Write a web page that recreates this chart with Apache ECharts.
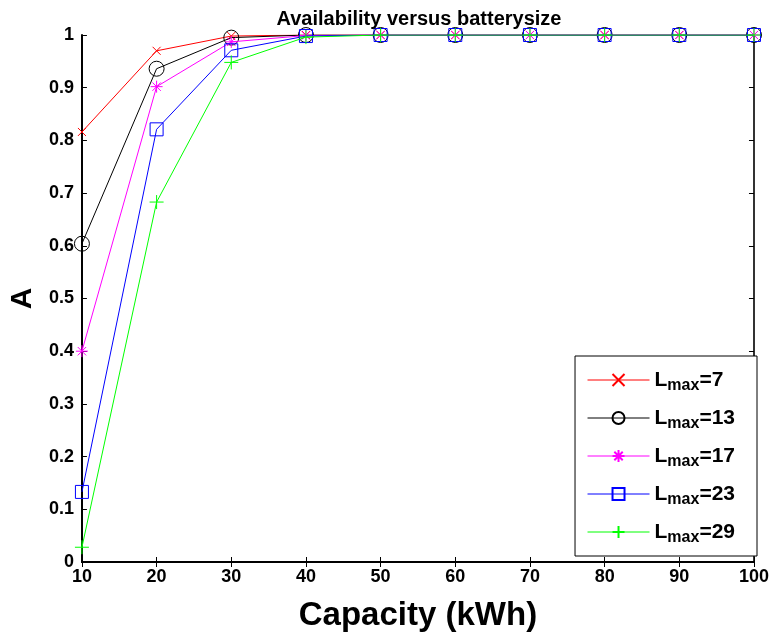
<!DOCTYPE html>
<html>
<head>
<meta charset="utf-8">
<script src="https://cdn.jsdelivr.net/npm/echarts@6/dist/echarts.min.js"></script>
<style>
  html, body { margin: 0; padding: 0; background: #fff; }
  #chart { width: 772px; height: 637px; }
</style>
</head>
<body>
<div id="chart"></div>
<script>
// capacity values (kWh)
var capacity = [10, 20, 30, 40, 50, 60, 70, 80, 90, 100];

// availability for each Lmax
var lmax7  = [0.816, 0.970, 0.998, 1, 1, 1, 1, 1, 1, 1];
var lmax13 = [0.604, 0.936, 0.995, 1, 1, 1, 1, 1, 1, 1];
var lmax17 = [0.400, 0.902, 0.987, 0.999, 1, 1, 1, 1, 1, 1];
var lmax23 = [0.133, 0.821, 0.971, 0.998, 1, 1, 1, 1, 1, 1];
var lmax29 = [0.028, 0.683, 0.948, 0.996, 1, 1, 1, 1, 1, 1];

var seriesNames = ['7', '13', '17', '23', '29'];
var seriesData = [lmax7, lmax13, lmax17, lmax23, lmax29];
var seriesColors = ['#ff0000', '#000000', '#ff00ff', '#0000ff', '#00ff00'];
var seriesSymbols = [
  'path://M0,0L10,10M10,0L0,10',
  'circle',
  'path://M5,0L5,10M0,5L10,5M1.5,1.5L8.5,8.5M8.5,1.5L1.5,8.5',
  'rect',
  'path://M5,0L5,10M0,5L10,5'
];
var seriesSizes = [8, 15, 12, 13, 14];

var font = '"Liberation Sans", Arial, sans-serif';

var dom = document.getElementById('chart');
var myChart = echarts.init(dom);

var series = seriesNames.map(function (n, i) {
  return {
    name: n,
    type: 'line',
    data: capacity.map(function (c, j) { return [c, seriesData[i][j]]; }),
    symbol: seriesSymbols[i],
    symbolSize: seriesSizes[i],
    showAllSymbol: true,
    lineStyle: { color: seriesColors[i], width: 1 },
    itemStyle: { color: 'rgba(255,255,255,0)', borderColor: seriesColors[i], borderWidth: 1 },
    emphasis: { disabled: true },
    animation: false,
    z: 2 + i
  };
});

var tickStyle = { show: true, inside: true, length: 5, lineStyle: { color: '#000', width: 1 } };

var option = {
  backgroundColor: '#fff',
  animation: false,
  title: {
    text: 'Availability versus batterysize',
    left: 414,
    textAlign: 'center',
    top: 4,
    textStyle: { fontFamily: font, fontWeight: 'bold', fontSize: 20, color: '#000' }
  },
  grid: { left: 81, right: 17, top: 35, bottom: 74 },
  legend: {
    orient: 'vertical',
    right: 15,
    bottom: 81,
    padding: [10, 22, 10, 12],
    itemGap: 10,
    itemWidth: 62,
    itemHeight: 15,
    backgroundColor: '#fff',
    borderColor: '#000',
    borderWidth: 1,
    borderRadius: 0,
    lineStyle: { width: 1 },
    data: seriesNames,
    formatter: function (name) {
      return '{l|L}{s|max}{l|=' + name + '}';
    },
    textStyle: {
      rich: {
        l: { fontFamily: font, fontWeight: 'bold', fontSize: 21, color: '#000', lineHeight: 22 },
        s: { fontFamily: font, fontWeight: 'bold', fontSize: 16, color: '#000', padding: [12, 0, 0, 0], lineHeight: 22 }
      }
    }
  },
  xAxis: [{
    type: 'value',
    min: 10,
    max: 100,
    interval: 10,
    name: 'Capacity (kWh)',
    nameLocation: 'middle',
    nameGap: 37,
    nameTextStyle: { fontFamily: font, fontWeight: 'bold', fontSize: 33, color: '#000' },
    axisLine: { show: true, lineStyle: { color: '#000', width: 2 } },
    axisTick: tickStyle,
    axisLabel: { fontFamily: font, fontWeight: 'bold', fontSize: 18, color: '#000', margin: 6 },
    splitLine: { show: false }
  }, {
    type: 'value',
    position: 'top',
    min: 10,
    max: 100,
    interval: 10,
    axisLine: { show: true, lineStyle: { color: '#000', width: 1.5 } },
    axisTick: tickStyle,
    axisLabel: { show: false },
    splitLine: { show: false }
  }],
  yAxis: [{
    type: 'value',
    min: 0,
    max: 1,
    interval: 0.1,
    name: 'A',
    nameLocation: 'middle',
    nameGap: 40,
    nameRotate: 90,
    nameTextStyle: { fontFamily: font, fontWeight: 'bold', fontSize: 30, color: '#000' },
    axisLine: { show: true, lineStyle: { color: '#000', width: 2 } },
    axisTick: tickStyle,
    axisLabel: {
      fontFamily: font, fontWeight: 'bold', fontSize: 18, color: '#000', margin: 8,
      formatter: function (v) {
        if (v === 0) return '0';
        if (Math.abs(v - 1) < 1e-9) return '1';
        return v.toFixed(1);
      }
    },
    splitLine: { show: false }
  }, {
    type: 'value',
    position: 'right',
    min: 0,
    max: 1,
    interval: 0.1,
    axisLine: { show: true, lineStyle: { color: '#333', width: 2 } },
    axisTick: tickStyle,
    axisLabel: { show: false },
    splitLine: { show: false }
  }],
  series: series
};

myChart.setOption(option);
</script>
</body>
</html>
